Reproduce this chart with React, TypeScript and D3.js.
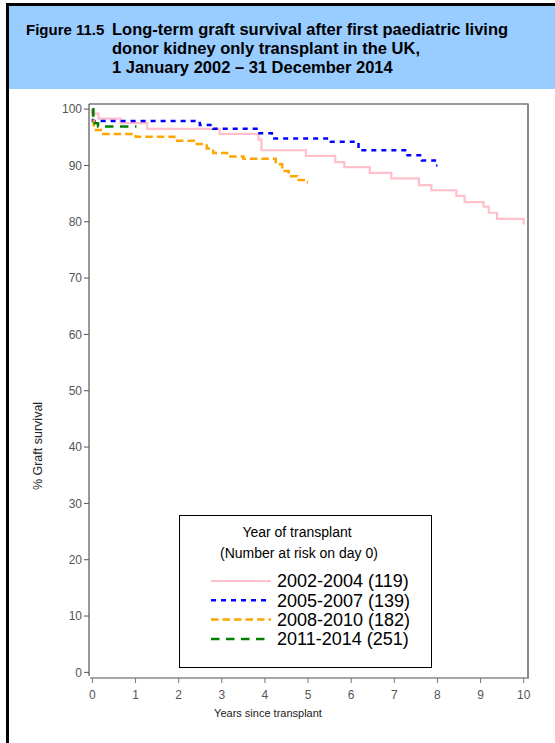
import React, { useEffect, useRef } from 'react';
import * as d3 from 'd3';

// Kaplan-Meier style step data (years, % graft survival)
const years0204 = [0, 0.02, 0.14, 0.65, 1.27, 2.95, 3.85, 3.92, 4.95, 5.63, 5.84, 6.43, 6.93, 7.57, 7.86, 8.44, 8.63, 9.07, 9.19, 9.38, 10.0];
const surv0204 = [100, 99.2, 98.3, 97.5, 96.5, 95.6, 94.6, 92.7, 91.7, 90.6, 89.7, 88.7, 87.7, 86.5, 85.6, 84.6, 83.5, 82.7, 81.6, 80.5, 79.5];

const years0507 = [0, 0.01, 2.49, 2.8, 3.84, 4.16, 5.53, 6.17, 7.25, 7.64, 7.94, 8.0];
const surv0507 = [100, 97.9, 97.2, 96.5, 95.7, 94.8, 94.2, 92.7, 91.8, 90.9, 90.0, 90.0];

const years0810 = [0, 0.01, 0.03, 0.25, 1.0, 1.9, 2.35, 2.65, 2.8, 3.12, 3.5, 4.25, 4.4, 4.55, 4.75, 4.95, 5.0];
const surv0810 = [100, 98.4, 96.3, 95.6, 95.1, 94.4, 93.8, 93.0, 92.2, 91.6, 91.2, 90.2, 89.0, 88.1, 87.4, 87.0, 87.0];

const years1114 = [0, 0.02, 0.13, 1.02];
const surv1114 = [100, 97.5, 96.9, 96.9];

const cohortLabels = ['2002-2004 (119)', '2005-2007 (139)', '2008-2010 (182)', '2011-2014 (251)'];

const yTicks = [0, 10, 20, 30, 40, 50, 60, 70, 80, 90, 100];
const xTicks = [0, 1, 2, 3, 4, 5, 6, 7, 8, 9, 10];

const titleLines = [
  'Long-term graft survival after first paediatric living',
  'donor kidney only transplant in the UK,',
  '1 January 2002 \u2013 31 December 2014',
];

// line styles per cohort (same order as cohortLabels)
const lineStyles = [
  { color: '#FFC0CB', dash: null as string | null },
  { color: '#0000FF', dash: '5,5' },
  { color: '#FFA500', dash: '7.5,4' },
  { color: '#008000', dash: '8.5,6.5' },
];

const FONT = '"Liberation Sans", Arial, Helvetica, sans-serif';

const App: React.FC = () => {
  const svgRef = useRef<SVGSVGElement>(null);

  useEffect(() => {
    if (!svgRef.current) return;
    const svg = d3.select(svgRef.current);
    svg.selectAll('*').remove();

    const width = 555;
    const height = 743;
    svg.attr('width', width).attr('height', height);

    // page frame + header band
    svg.append('rect').attr('width', width).attr('height', height).attr('fill', '#fff');
    svg.append('rect').attr('x', 9).attr('y', 6).attr('width', width - 9).attr('height', 83).attr('fill', '#99CCFF');
    svg.append('rect').attr('x', 6).attr('y', 3).attr('width', width - 6).attr('height', 3).attr('fill', '#000');
    svg.append('rect').attr('x', 6).attr('y', 3).attr('width', 3).attr('height', height - 3).attr('fill', '#000');

    const title = svg.append('g').attr('font-family', FONT).attr('font-weight', 'bold').attr('fill', '#000');
    title.append('text').attr('x', 26).attr('y', 35).attr('font-size', '15px').text('Figure 11.5');
    title.selectAll('text.line')
      .data(titleLines)
      .enter()
      .append('text')
      .attr('class', 'line')
      .attr('x', 112)
      .attr('y', (_, i) => 35 + i * 19)
      .attr('font-size', '16.5px')
      .text(d => d);

    // scales
    const x = d3.scaleLinear().domain([-0.08, 10.1]).range([89, 528]);
    const y = d3.scaleLinear().domain([-1, 101]).range([678, 103.5]);

    // plot frame
    svg.append('line').attr('x1', 89).attr('x2', 528).attr('y1', 104).attr('y2', 104).attr('stroke', '#333').attr('stroke-width', 1);
    svg.append('line').attr('x1', 89).attr('x2', 89).attr('y1', 104).attr('y2', 676).attr('stroke', '#333').attr('stroke-width', 1);
    svg.append('line').attr('x1', 528).attr('x2', 528).attr('y1', 103.5).attr('y2', 678).attr('stroke', '#888').attr('stroke-width', 2);
    svg.append('line').attr('x1', 90).attr('x2', 529).attr('y1', 678).attr('y2', 678).attr('stroke', '#888').attr('stroke-width', 1.5);

    // y axis ticks
    const yAxis = svg.append('g').attr('font-family', FONT).attr('font-size', '12px');
    yTicks.forEach(t => {
      yAxis.append('line').attr('x1', 84).attr('x2', 89).attr('y1', y(t)).attr('y2', y(t)).attr('stroke', '#555');
      yAxis.append('text').attr('x', 82).attr('y', y(t)).attr('dy', '0.35em')
        .attr('text-anchor', 'end').attr('fill', '#555').text(t);
    });

    // x axis ticks
    const xAxis = svg.append('g').attr('font-family', FONT).attr('font-size', '12px');
    xTicks.forEach(t => {
      xAxis.append('line').attr('x1', x(t)).attr('x2', x(t)).attr('y1', 678).attr('y2', 683).attr('stroke', '#777');
      xAxis.append('text').attr('x', x(t)).attr('y', 699)
        .attr('text-anchor', 'middle').attr('fill', '#555').text(t);
    });

    svg.append('text').attr('x', 268).attr('y', 717).attr('text-anchor', 'middle')
      .attr('font-family', FONT).attr('font-size', '11px').attr('fill', '#222')
      .text('Years since transplant');
    svg.append('text').attr('transform', 'translate(42,446) rotate(-90)').attr('text-anchor', 'middle')
      .attr('font-family', FONT).attr('font-size', '12.5px').attr('fill', '#222')
      .text('% Graft survival');

    // survival curves
    const series: [number[], number[]][] = [
      [years0204, surv0204],
      [years0507, surv0507],
      [years0810, surv0810],
      [years1114, surv1114],
    ];
    const line = d3.line<[number, number]>()
      .x(d => x(d[0]))
      .y(d => y(d[1]))
      .curve(d3.curveStepAfter);

    [0, 1, 2, 3].forEach(i => {
      const [ts, vs] = series[i];
      const pts = ts.map((t, j) => [t, vs[j]] as [number, number]);
      const path = svg.append('path')
        .attr('d', line(pts))
        .attr('fill', 'none')
        .attr('stroke', lineStyles[i].color)
        .attr('stroke-width', i === 0 ? 2.2 : 2.5);
      if (lineStyles[i].dash) path.attr('stroke-dasharray', lineStyles[i].dash as string);
    });

    // legend
    const legend = svg.append('g').attr('font-family', FONT);
    legend.append('rect').attr('x', 179.5).attr('y', 515.5).attr('width', 252).attr('height', 152)
      .attr('fill', '#fff').attr('stroke', '#000').attr('stroke-width', 1);
    legend.append('text').attr('x', 297).attr('y', 537).attr('text-anchor', 'middle')
      .attr('font-size', '14px').attr('fill', '#000').text('Year of transplant');
    legend.append('text').attr('x', 299).attr('y', 558).attr('text-anchor', 'middle')
      .attr('font-size', '14px').attr('fill', '#000').text('(Number at risk on day 0)');

    cohortLabels.forEach((lab, i) => {
      const cy = 581 + i * 19.3;
      const l = legend.append('line').attr('x1', 211).attr('x2', 271).attr('y1', cy).attr('y2', cy)
        .attr('stroke', lineStyles[i].color).attr('stroke-width', i === 0 ? 2.2 : 2.5);
      if (lineStyles[i].dash) l.attr('stroke-dasharray', lineStyles[i].dash as string);
      legend.append('text').attr('x', 277).attr('y', cy).attr('dy', '0.35em')
        .attr('font-size', '18px').attr('fill', '#000').text(lab);
    });
  }, []);

  return (
    <div style={{ position: 'absolute', left: 0, top: 0 }}>
      <svg ref={svgRef} style={{ display: 'block' }}></svg>
    </div>
  );
};

export default App;
